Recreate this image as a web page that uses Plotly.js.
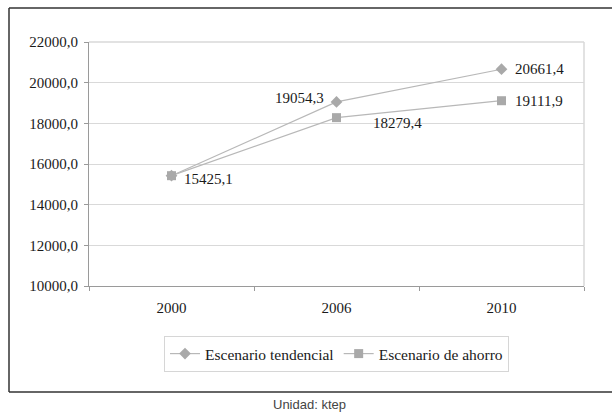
<!DOCTYPE html>
<html>
<head>
<meta charset="utf-8">
<script src="https://cdn.plot.ly/plotly-3.0.1.min.js"></script>
<style>
html,body{margin:0;padding:0;background:#fff;}
#chart{width:612px;height:412px;}
</style>
</head>
<body>
<div id="chart"></div>
<script>
// ---- data ----
var years = ['2000', '2006', '2010'];
var tendencial = [15425.1, 19054.3, 20661.4];
var ahorro = [15425.1, 18279.4, 19111.9];
var seriesNames = ['Escenario tendencial', 'Escenario de ahorro'];
var yTicks = [10000, 12000, 14000, 16000, 18000, 20000, 22000];
var unitNote = 'Unidad: ktep';

function fmt(v) { return v.toFixed(1).replace('.', ','); }

var serif = 'Liberation Serif, Times New Roman, serif';
var txtColor = '#1a1a1a';

var traces = [
  {
    x: years, y: tendencial, name: seriesNames[0], type: 'scatter', mode: 'lines+markers',
    line: {color: '#b8b8b8', width: 1.2},
    marker: {symbol: 'diamond', size: 9, color: '#a9a9a9'}
  },
  {
    x: years, y: ahorro, name: seriesNames[1], type: 'scatter', mode: 'lines+markers',
    line: {color: '#b8b8b8', width: 1.2},
    marker: {symbol: 'square', size: 9, color: '#a9a9a9'}
  }
];

// label placements (style only): [series, index, anchor, xshift, yshift]
var labelPlacement = [
  [ahorro, 0, 'left', 10, -3],
  [tendencial, 1, 'right', -11, 4],
  [ahorro, 1, 'left', 34, -5],
  [tendencial, 2, 'left', 11, 0],
  [ahorro, 2, 'left', 11, 0]
];
var annotations = labelPlacement.map(function (p) {
  return {
    x: p[1], y: p[0][p[1]], xref: 'x', yref: 'y',
    text: fmt(p[0][p[1]]), showarrow: false,
    xanchor: p[2], yanchor: 'middle', xshift: p[3], yshift: p[4],
    font: {family: serif, size: 15, color: txtColor}
  };
});
annotations.push({
  x: 0.445, y: -0.484, xref: 'paper', yref: 'paper', showarrow: false,
  text: unitNote, xanchor: 'center', yanchor: 'middle',
  font: {family: 'Liberation Sans, Arial, sans-serif', size: 13, color: '#444'}
});

var layout = {
  width: 612, height: 412,
  margin: {l: 89, r: 28, t: 42, b: 126},
  paper_bgcolor: '#fff', plot_bgcolor: '#fff',
  showlegend: true,
  legend: {
    orientation: 'h', x: 0.5, xanchor: 'center', y: -0.205, yanchor: 'top',
    bordercolor: '#d6d6d6', borderwidth: 1, bgcolor: '#fff',
    font: {family: serif, size: 15.5, color: txtColor},
    itemwidth: 30, tracegroupgap: 0
  },
  xaxis: {
    type: 'category', range: [-0.5, 2.5],
    showgrid: false, showline: true, linecolor: '#9a9a9a', linewidth: 1,
    mirror: false, ticks: 'outside', tickson: 'boundaries', ticklen: 4,
    tickcolor: '#9a9a9a', ticklabelstandoff: 8,
    tickfont: {family: serif, size: 15, color: txtColor},
    fixedrange: true, zeroline: false
  },
  yaxis: {
    range: [10000, 22000], tickvals: yTicks, ticktext: yTicks.map(fmt),
    showgrid: true, gridcolor: '#d9d9d9', gridwidth: 1,
    showline: true, linecolor: '#9a9a9a', linewidth: 1,
    ticks: 'outside', ticklen: 4, tickcolor: '#9a9a9a', ticklabelstandoff: 3,
    tickfont: {family: serif, size: 15, color: txtColor},
    zeroline: false, fixedrange: true
  },
  annotations: annotations,
  shapes: [
    {type: 'line', xref: 'paper', yref: 'paper', x0: 0, x1: 1, y0: 1, y1: 1, line: {color: '#d9d9d9', width: 1.5}},
    {type: 'line', xref: 'paper', yref: 'paper', x0: 1, x1: 1, y0: 0, y1: 1, line: {color: '#d9d9d9', width: 1.5}},
    {type: 'line', xref: 'paper', yref: 'paper', x0: -80/495, x1: 540/495, y0: 1 + 34/244, y1: 1 + 34/244, line: {color: '#333', width: 1.5}},
    {type: 'line', xref: 'paper', yref: 'paper', x0: -80/495, x1: -80/495, y0: 1 + 34/244, y1: -106/244, line: {color: '#333', width: 1.5}},
    {type: 'line', xref: 'paper', yref: 'paper', x0: -80/495, x1: 540/495, y0: -106/244, y1: -106/244, line: {color: '#333', width: 1.5}}
  ]
};

Plotly.newPlot('chart', traces, layout, {displayModeBar: false, staticPlot: true});
</script>
</body>
</html>
